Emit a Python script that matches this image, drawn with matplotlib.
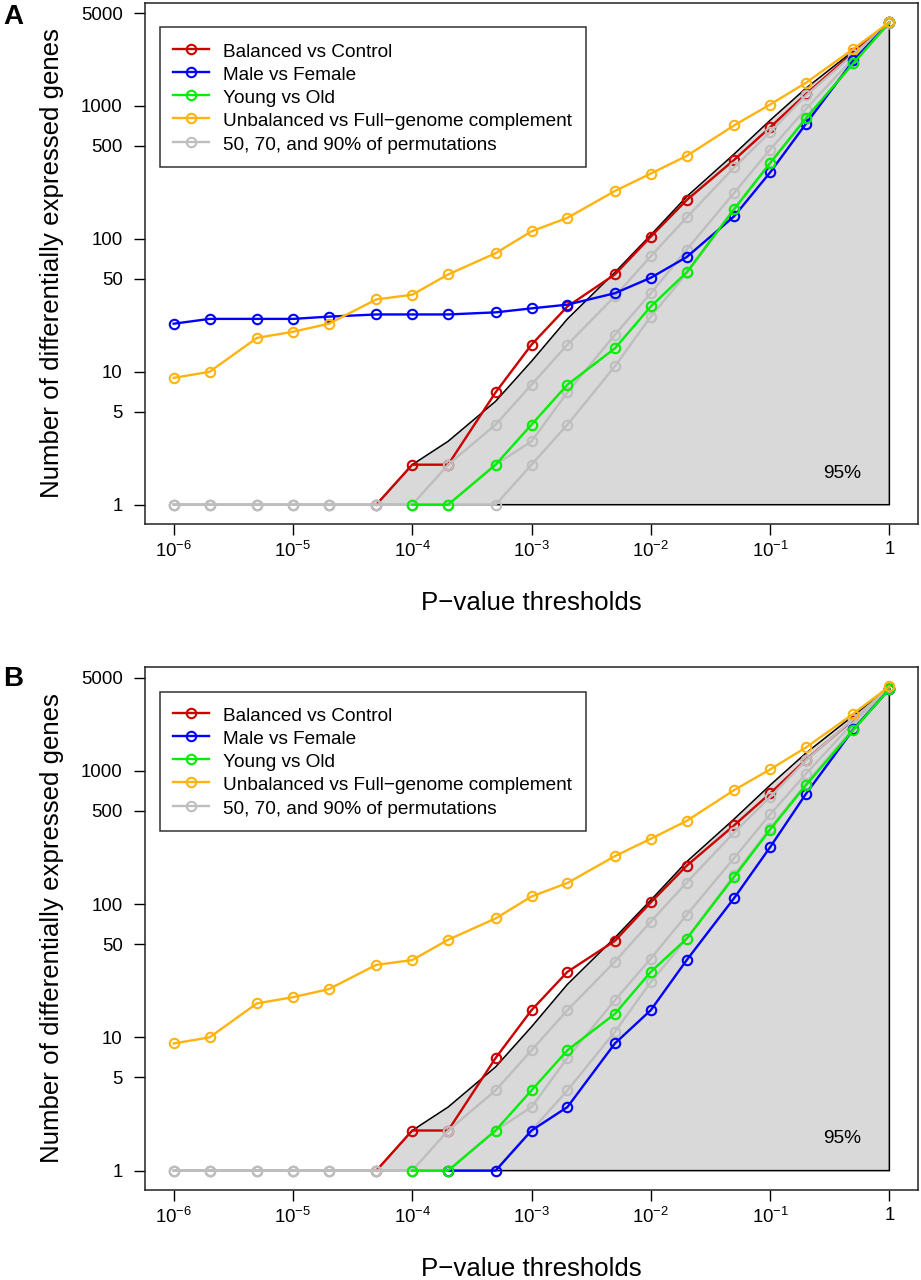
import numpy as np
import matplotlib
matplotlib.use("Agg")
import matplotlib.pyplot as plt

plt.rcParams['font.family'] = ['Liberation Sans', 'DejaVu Sans']
plt.rcParams['mathtext.fontset'] = 'custom'
plt.rcParams['mathtext.rm'] = 'Liberation Sans'
plt.rcParams['mathtext.default'] = 'regular'

nan = np.nan

# p-value thresholds
pvals = [1e-6, 2e-6, 5e-6, 1e-5, 2e-5, 5e-5, 1e-4, 2e-4, 5e-4, 1e-3, 2e-3, 5e-3,
         1e-2, 2e-2, 5e-2, 0.1, 0.2, 0.5, 1]

# number of differentially expressed genes (nan = zero, not drawn on log scale)
balanced = [nan, nan, nan, nan, nan, 1, 2, 2, 7, 16, 31, 54, 104, 196, 393, 690, 1230, 2520, 4250]
male_a = [23, 25, 25, 25, 26, 27, 27, 27, 28, 30, 32, 39, 51, 73, 148, 316, 735, 2200, 4250]
young_a = [nan, nan, nan, nan, nan, nan, 1, 1, 2, 4, 8, 15, 31, 56, 168, 372, 810, 2100, 4250]
unbal = [9, 10, 18, 20, 23, 35, 38, 54, 78, 114, 144, 229, 310, 421, 715, 1025, 1495, 2690, 4260]

balanced_b = [nan, nan, nan, nan, nan, 1, 2, 2, 7, 16, 31, 53, 103, 194, 390, 676, 1213, 2420, 4100]
male_b = [nan, nan, nan, nan, nan, nan, nan, 1, 1, 2, 3, 9, 16, 38, 111, 267, 672, 2050, 4100]
young_b = [nan, nan, nan, nan, nan, nan, 1, 1, 2, 4, 8, 15, 31, 55, 160, 362, 782, 2030, 4100]
unbal_b = [9, 10, 18, 20, 23, 35, 38, 54, 78, 114, 144, 229, 309, 421, 717, 1024, 1497, 2685, 4300]

# permutation quantiles
perm50 = [1, 1, 1, 1, 1, 1, 1, 1, 1, 2, 4, 11, 26, 55, 165, 370, 800, 2100, 4200]
perm70 = [1, 1, 1, 1, 1, 1, 1, 1, 2, 3, 7, 19, 39, 83, 222, 470, 950, 2300, 4200]
perm90 = [1, 1, 1, 1, 1, 1, 1, 2, 4, 8, 16, 37, 74, 145, 345, 635, 1200, 2450, 4200]
perm95 = [1, 1, 1, 1, 1, 1, 2, 3, 6, 12, 25, 56, 107, 208, 435, 780, 1360, 2600, 4200]

labels = ['Balanced vs Control', 'Male vs Female', 'Young vs Old',
          'Unbalanced vs Full\u2212genome complement', '50, 70, and 90% of permutations']
colors = ['#CC0000', '#0000FF', '#00EE00', '#FFB30F', '#BEBEBE']

xticks = [1e-6, 1e-5, 1e-4, 1e-3, 1e-2, 1e-1, 1]
xticklabels = [r'$10^{-6}$', r'$10^{-5}$', r'$10^{-4}$', r'$10^{-3}$', r'$10^{-2}$', r'$10^{-1}$', '1']
yticks = [1, 5, 10, 50, 100, 500, 1000, 5000]

fig = plt.figure(figsize=(9.21, 12.8), dpi=100)


def panel(ax, red, blue, green, orange, letter, ly):
    st = dict(lw=1.7, marker='o', ms=6.8, mfc='none', mew=1.5)
    # 95% region
    px = pvals + pvals[::-1]
    py = perm95 + [1] * len(pvals)
    ax.fill(px, py, facecolor='#D9D9D9', edgecolor='black', lw=1.1, zorder=1)
    ax.plot(pvals, red, color=colors[0], zorder=2, **st)
    for g in (perm50, perm70, perm90):
        ax.plot(pvals, g, color=colors[4], zorder=3, **st)
    ax.plot(pvals, blue, color=colors[1], zorder=4, **st)
    ax.plot(pvals, green, color=colors[2], zorder=5, **st)
    ax.plot(pvals, orange, color=colors[3], zorder=6, **st)

    ax.set_xscale('log')
    ax.set_yscale('log')
    ext = 0.04 * 6
    ax.set_xlim(10 ** (-6 - ext), 10 ** ext)
    top = np.log10(np.nanmax([red, blue, green, orange, perm95]))
    ax.set_ylim(10 ** (-0.04 * top), 10 ** (top * 1.04))
    ax.set_xticks(xticks)
    ax.set_xticklabels(xticklabels)
    ax.set_yticks(yticks)
    ax.set_yticklabels([str(v) for v in yticks])
    ax.minorticks_off()
    ax.tick_params(axis='both', direction='out', length=8, width=1, labelsize=13.4)
    ax.tick_params(axis='x', pad=4)
    ax.tick_params(axis='y', pad=8)
    for s in ax.spines.values():
        s.set_linewidth(1.1)
        s.set_color('#222222')

    ax.set_xlabel('P\u2212value thresholds', fontsize=18.6)
    ax.xaxis.label.set_va('center')
    ax.xaxis.set_label_coords(0.5, -0.152)
    ax.set_ylabel('Number of differentially expressed genes', fontsize=18.6)
    ax.yaxis.label.set_va('center')
    ax.yaxis.set_label_coords(-0.120, 0.5)

    ax.text(0.40, 1.73, '95%', fontsize=13.8, ha='center', va='center', zorder=7)

    handles = [plt.Line2D([], [], color=c, **st) for c in colors]
    leg = ax.legend(handles, labels, loc='upper left', bbox_to_anchor=(0.019, 0.953),
                    borderaxespad=0, fontsize=13.7, frameon=True, fancybox=False,
                    edgecolor='black', handlelength=1.9, handletextpad=0.75,
                    labelspacing=0.175, handleheight=1.15, borderpad=0.7, numpoints=1)
    leg.get_frame().set_linewidth(1.1)
    leg.set_zorder(10)

    fig.text(13 / 921, 1 - ly / 1280, letter, fontsize=20, fontweight='bold',
             ha='center', va='center')


axA = fig.add_axes([145 / 921, 1 - 524 / 1280, 773 / 921, 521 / 1280])
panel(axA, balanced, male_a, young_a, unbal, 'A', 16.5)

axB = fig.add_axes([145 / 921, 1 - 1190 / 1280, 773 / 921, 523 / 1280])
panel(axB, balanced_b, male_b, young_b, unbal_b, 'B', 678.5)

fig.savefig('out.png', dpi=100)
